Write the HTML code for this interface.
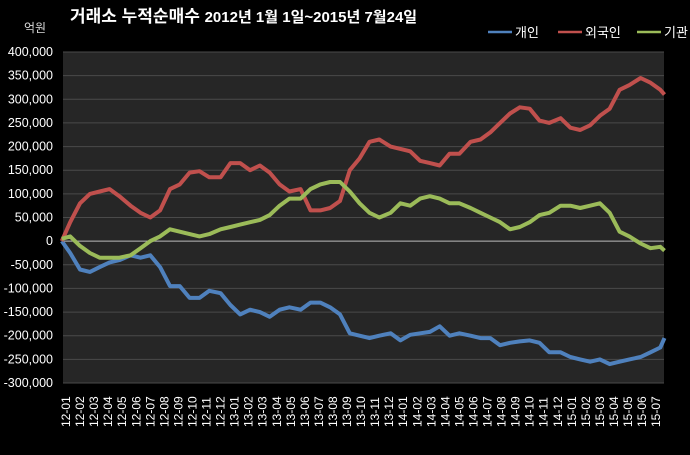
<!DOCTYPE html>
<html><head><meta charset="utf-8"><style>
body{margin:0;background:#000;width:690px;height:450px;overflow:hidden;font-family:"Liberation Sans","Noto Sans CJK KR",sans-serif}
</style></head><body>
<svg id="c" width="690" height="450" xmlns="http://www.w3.org/2000/svg" style="font-family:'Liberation Sans','Noto Sans CJK KR',sans-serif">
<rect width="690" height="450" fill="#000"/>
<text x="70" y="22" fill="#fff" font-size="17" font-weight="bold">거래소 누적순매수 <tspan font-size="15">2012년 1월 1일~2015년 7월24일</tspan></text>
<text x="24" y="32" fill="#ddd" font-size="12">억원</text>
<rect x="63" y="52" width="601" height="331" fill="#262626"/>
<g id="grid"></g><g id="ylab"></g><g id="xlab"></g><g id="series"></g><g id="legend"></g>
</svg>
<script>
const months=[-0.3,0.3,1.0,1.7,2.4,3.1,3.8,4.6,5.3,6.0,6.7,7.4,8.1,8.8,9.5,10.2,11.0,11.7,12.4,13.1,13.8,14.5,15.2,15.9,16.7,17.4,18.1,18.8,19.5,20.2,20.9,21.6,22.3,23.1,23.8,24.5,25.2,25.9,26.6,27.3,28.0,28.8,29.5,30.2,30.9,31.6,32.3,33.0,33.7,34.4,35.2,35.9,36.6,37.3,38.0,38.7,39.4,40.1,40.9,41.6,42.3,42.6];
const individual=[0,-25,-60,-65,-55,-45,-40,-30,-35,-30,-55,-95,-95,-120,-120,-105,-110,-135,-155,-145,-150,-160,-145,-140,-145,-130,-130,-140,-155,-195,-200,-205,-200,-195,-210,-198,-195,-192,-180,-200,-195,-200,-205,-205,-220,-215,-212,-210,-215,-235,-235,-245,-250,-255,-250,-260,-255,-250,-245,-235,-225,-205];
const foreign=[0,40,80,100,105,110,95,75,60,50,65,110,120,145,148,135,135,165,165,150,160,145,120,105,110,65,65,70,85,150,175,210,215,200,195,190,170,165,160,185,185,210,215,230,250,270,283,280,255,250,260,240,235,245,265,280,320,330,345,335,320,310];
const institution=[5,10,-10,-25,-35,-35,-35,-30,-15,0,10,25,20,15,10,15,25,30,35,40,45,55,75,90,90,110,120,125,125,105,80,60,50,60,80,75,90,95,90,80,80,70,60,50,40,25,30,40,55,60,75,75,70,75,80,60,20,10,-5,-15,-12,-20];
const yTicks=[400,350,300,250,200,150,100,50,0,-50,-100,-150,-200,-250,-300];
const xLabels=["12-01","12-02","12-03","12-04","12-05","12-06","12-07","12-08","12-09","12-10","12-11","12-12","13-01","13-02","13-03","13-04","13-05","13-06","13-07","13-08","13-09","13-10","13-11","13-12","14-01","14-02","14-03","14-04","14-05","14-06","14-07","14-08","14-09","14-10","14-11","14-12","15-01","15-02","15-03","15-04","15-05","15-06","15-07"];
const NS="http://www.w3.org/2000/svg";
const y=v=>52+(400-v)/700*331;
const x=m=>66+m*14.05;
function mk(t,a,p){const e=document.createElementNS(NS,t);for(const k in a)e.setAttribute(k,a[k]);document.getElementById(p).appendChild(e);return e;}
yTicks.forEach(v=>{
  const g=mk('line',{x1:63,x2:664,y1:y(v),y2:y(v),stroke:v===0?'#bbb':'#4a4a4a','stroke-width':1},'grid');
  
  
  const t=mk('text',{x:53,y:y(v)+4,fill:'#fff','font-size':12.5,'text-anchor':'end'},'ylab');
  t.textContent=v===0?'0':(v<0?'-':'')+Math.abs(v)+(v===0?'':',000');
  
  
});
xLabels.forEach((l,i)=>{
  const t=mk('text',{transform:`translate(${x(i)+4},427) rotate(-90)`,fill:'#fff','font-size':12},'xlab');
  t.textContent=l;
  
  
});
[[individual,'#4f81bd','series-individual'],[foreign,'#c0504d','series-foreign'],[institution,'#9bbb59','series-institution']].forEach(([d,c,n])=>{
  const p=mk('polyline',{points:d.map((v,i)=>x(months[i]).toFixed(1)+','+y(v).toFixed(1)).join(' '),fill:'none',stroke:c,'stroke-width':4,'stroke-linejoin':'round'},'series');
  
  
});
[['개인','#4f81bd',488],['외국인','#c0504d',558],['기관','#9bbb59',637]].forEach(([l,c,px])=>{
  const ln=mk('line',{x1:px,x2:px+24,y1:32,y2:32,stroke:c,'stroke-width':2.5},'legend');
  
  
  const t=mk('text',{x:px+27,y:37,fill:'#fff','font-size':13},'legend');
  t.textContent=l;
  
  
});
</script>
</body></html>
